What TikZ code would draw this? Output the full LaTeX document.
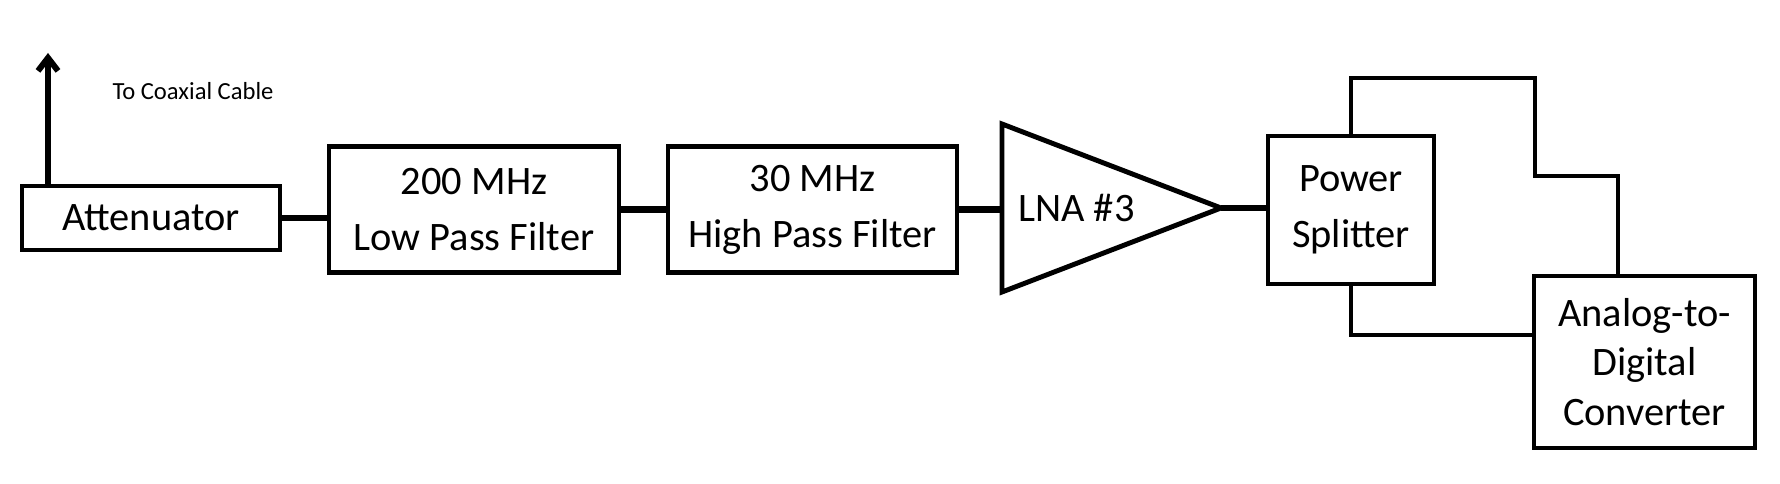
\documentclass[tikz,border=0pt]{standalone}
\usepackage{fontspec}
\setmainfont{Carlito}
\usetikzlibrary{arrows.meta}

\begin{document}
\begin{tikzpicture}[font=\fontsize{23}{32}\selectfont,
  blk/.style={draw, line width=2.8pt, align=center, inner sep=0pt},
  wire/.style={line width=3.8pt},
  splitwire/.style={line width=2.7pt}]
\useasboundingbox (0,0) rectangle (35.6,9.68);
% receive chain blocks
\node[blk, minimum width=5.16cm, minimum height=1.28cm] (att) at (3.02,5.32) {Attenuator};
\node[blk, minimum width=5.8cm, minimum height=2.52cm] (lpf) at (9.48,5.49) {200 MHz\\Low Pass Filter};
\node[blk, minimum width=5.78cm, minimum height=2.52cm] (hpf) at (16.25,5.49) {30 MHz\\High Pass Filter};
% amplifier triangle
\coordinate (lnaTop) at (20.04,7.2);
\coordinate (lnaBot) at (20.04,3.84);
\coordinate (lnaIn) at (20.04,5.52);
\coordinate (lnaTip) at (24.42,5.52);
\draw[line width=2.8pt] (lnaTop) -- (lnaTip) -- (lnaBot) -- cycle;
\node[anchor=west, inner sep=0pt] (lna) at (20.36,5.52) {LNA \#3};
\node[blk, minimum width=3.32cm, minimum height=2.96cm] (ps) at (27.02,5.48) {Power\\Splitter};
\node[blk, minimum width=4.42cm, minimum height=3.44cm, font=\fontsize{23}{28}\selectfont] (adc) at (32.89,2.44) {Analog-to-\\Digital\\Converter};
% chain connections
\draw[wire] (att.east) -- (att.east -| lpf.west);
\draw[wire] (lpf.east) -- (hpf.west);
\draw[wire] (hpf.east) -- (hpf.east -| lnaIn);
\draw[wire] (lnaTip) -- (lnaTip -| ps.west);
% splitter outputs to ADC
\coordinate (up1) at (30.7,8.12);
\coordinate (up2) at (32.36,6.16);
\coordinate (adcIn) at (30.64,2.98);
\draw[splitwire] (ps.north) |- (up1) |- (up2) -- (up2 |- adc.north);
\draw[splitwire] (ps.south) |- (adcIn);
% cable output
\coordinate (cable) at (0.96,8.62);
\draw[line width=3.4pt, -{Straight Barb[length=0.26cm, width=0.4cm]}] (att.north -| cable) -- (cable);
\node[font=\fontsize{14}{17}\selectfont] (coax) at (3.86,7.86) {To Coaxial Cable};
\end{tikzpicture}
\end{document}
